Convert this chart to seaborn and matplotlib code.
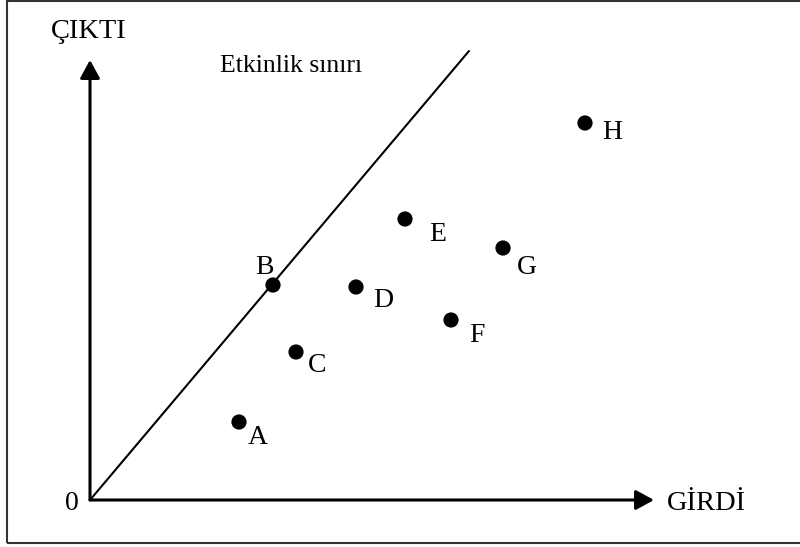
import seaborn as sns
import pandas as pd
import matplotlib.pyplot as plt
from matplotlib.patches import Rectangle

# Decision units (input, output)
labels = ['A', 'B', 'C', 'D', 'E', 'F', 'G', 'H']
girdi = [14.9, 18.3, 20.6, 26.6, 31.5, 36.1, 41.3, 49.5]
cikti = [7.8, 21.5, 14.8, 21.3, 28.1, 18.0, 25.2, 37.7]

# efficiency frontier through origin and B
frontier_x = [0, 37.9]
frontier_y = [0, 44.9]

df = pd.DataFrame({'girdi': girdi, 'cikti': cikti, 'label': labels})

# label offsets in pixels
offsets = {'A': (19, -22), 'B': (-9, 11), 'C': (21, -20), 'D': (27, -20),
           'E': (33, -22), 'F': (26, -22), 'G': (24, -26), 'H': (27, -16)}

sns.set_style('white')
plt.rcParams['font.family'] = ['Liberation Serif', 'DejaVu Serif']
plt.rcParams['text.color'] = 'black'

fig = plt.figure(figsize=(8, 5.47), dpi=100)
ax = fig.add_axes([0, 0, 1, 1])
ax.set_xlim(-9, 71)
ax.set_ylim(-4.7, 50)
ax.axis('off')

# frame
fig.patches.append(Rectangle((7 / 800, 4 / 547), 1.02, 1 - 5 / 547,
                             transform=fig.transFigure, fill=False,
                             edgecolor='#333333', lw=1.5))

# axes with arrows
arrow = dict(arrowstyle='-|>,head_length=0.55,head_width=0.3', mutation_scale=20,
             lw=2.2, color='black', shrinkA=0, shrinkB=0)
ax.annotate('', xy=(0, 44), xytext=(0, 0), arrowprops=arrow)
ax.annotate('', xy=(56.4, 0), xytext=(0, 0), arrowprops=arrow)

sns.lineplot(x=frontier_x, y=frontier_y, ax=ax, color='black', lw=1.5)
sns.scatterplot(data=df, x='girdi', y='cikti', ax=ax, color='black', s=120,
                edgecolor='none', zorder=3)

for lab, x, y in zip(labels, girdi, cikti):
    ax.annotate(lab, (x, y), xytext=offsets[lab], textcoords='offset pixels',
                ha='center', va='baseline', fontsize=20, color='black')

ax.text(-0.1, 46.2, 'ÇIKTI', ha='center', va='baseline', fontsize=20.5)
ax.text(13.0, 42.8, 'Etkinlik sınırı', ha='left', va='baseline', fontsize=18.5)
ax.text(57.7, -1.0, 'GİRDİ', ha='left', va='baseline', fontsize=20.5)
ax.text(-1.8, -1.0, '0', ha='center', va='baseline', fontsize=20)

fig.savefig('out.png', dpi=100)
